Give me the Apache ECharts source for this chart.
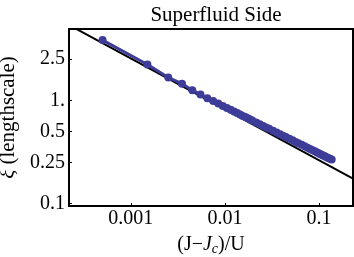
<!DOCTYPE html>
<html>
<head>
<meta charset="utf-8">
<script src="https://cdn.jsdelivr.net/npm/echarts@6/dist/echarts.min.js"></script>
<style>html,body{margin:0;padding:0;background:#fff}#c{width:354px;height:257px}</style>
</head>
<body>
<div id="c"></div>
<script>
// data
var dataX = [0.0005, 0.0015, 0.0025, 0.0035, 0.0045, 0.0055, 0.0065, 0.0075, 0.0085, 0.0095,
  0.0105, 0.0115, 0.0125, 0.0135, 0.0145, 0.0155, 0.0165, 0.0175, 0.0185, 0.0195,
  0.0215, 0.0235, 0.0255, 0.0275, 0.0295, 0.0325, 0.0355, 0.0385, 0.0415, 0.0445,
  0.0485, 0.0525, 0.0565, 0.0605, 0.0655, 0.0705, 0.0755, 0.0805, 0.0855, 0.0905,
  0.0955, 0.1005, 0.1055, 0.1105, 0.1155, 0.1205, 0.1255, 0.1305, 0.1365];
var dataY = [3.83, 2.22, 1.66, 1.45, 1.25, 1.14, 1.05, 0.985, 0.93, 0.882,
  0.843, 0.809, 0.780, 0.753, 0.729, 0.707, 0.688, 0.670, 0.653, 0.638,
  0.611, 0.587, 0.566, 0.547, 0.530, 0.508, 0.488, 0.471, 0.455, 0.441,
  0.424, 0.410, 0.396, 0.384, 0.371, 0.359, 0.348, 0.338, 0.329, 0.321,
  0.313, 0.306, 0.2995, 0.293, 0.288, 0.282, 0.277, 0.272, 0.267];
var fitX = [0.00022, 0.23];
var fitY = [5.36, 0.175];
var xTicks = [0.001, 0.01, 0.1];
var yTicks = [0.1, 0.25, 0.5, 1, 2.5];
var titleText = 'Superfluid Side';

var font = 'Liberation Serif, Times New Roman, serif';
var chart = echarts.init(document.getElementById('c'));
chart.setOption({
  animation: false,
  title: {
    text: titleText, left: 211, top: 0, textAlign: 'center',
    textStyle: {fontFamily: font, fontSize: 21, fontWeight: 'normal', color: '#000'}
  },
  grid: {left: 69, right: 1, top: 29, bottom: 51, show: true, borderColor: '#000', borderWidth: 2,
    containLabel: false, outerBoundsMode: 'none'},
  xAxis: {
    type: 'log', logBase: 10, min: 0.00022, max: 0.23,
    name: '(J\u2212{i|J}{s|c})/U', nameLocation: 'middle', nameGap: 22,
    nameTextStyle: {fontFamily: font, fontSize: 20, color: '#000', lineHeight: 22,
      rich: {i: {fontFamily: font, fontSize: 20, fontStyle: 'italic', color: '#000', lineHeight: 22},
             s: {fontFamily: font, fontSize: 14, fontStyle: 'italic', color: '#000', lineHeight: 14, verticalAlign: 'bottom'}}},
    axisLine: {show: true, lineStyle: {color: '#000', width: 2}},
    axisTick: {show: true, inside: true, length: 3, customValues: xTicks, lineStyle: {color: '#000', width: 1}},
    axisLabel: {show: true, customValues: xTicks, margin: 3, fontFamily: font, fontSize: 20, color: '#000',
      formatter: function (v) { return String(+(+v).toPrecision(6)); }},
    splitLine: {show: false}, minorTick: {show: false}
  },
  yAxis: {
    type: 'log', logBase: 10, min: 0.095, max: 4.9,
    name: '{i|\u03be} (lengthscale)', nameLocation: 'middle', nameGap: 43,
    nameTextStyle: {fontFamily: font, fontSize: 21, color: '#000',
      rich: {i: {fontFamily: font, fontSize: 21, fontStyle: 'italic', color: '#000'}}},
    axisLine: {show: true, lineStyle: {color: '#000', width: 2}},
    axisTick: {show: true, inside: true, length: 3, customValues: yTicks, lineStyle: {color: '#000', width: 1}},
    axisLabel: {show: true, customValues: yTicks, margin: 4, fontFamily: font, fontSize: 20, color: '#000',
      formatter: function (v) { var n = +(+v).toPrecision(6); return n === 1 ? '1.' : String(n); }},
    splitLine: {show: false}, minorTick: {show: false}
  },
  series: [
    {
      type: 'line', data: fitX.map(function (x, i) { return [x, fitY[i]]; }),
      symbol: 'none', lineStyle: {color: '#000', width: 2}, z: 2, clip: true
    },
    {
      type: 'line', data: dataX.map(function (x, i) { return [x, dataY[i]]; }),
      symbol: 'circle', symbolSize: 8, showAllSymbol: true,
      lineStyle: {color: '#3d3d99', width: 3},
      itemStyle: {color: '#3d3d99'}, z: 3, clip: true
    }
  ]
});
</script>
</body>
</html>
